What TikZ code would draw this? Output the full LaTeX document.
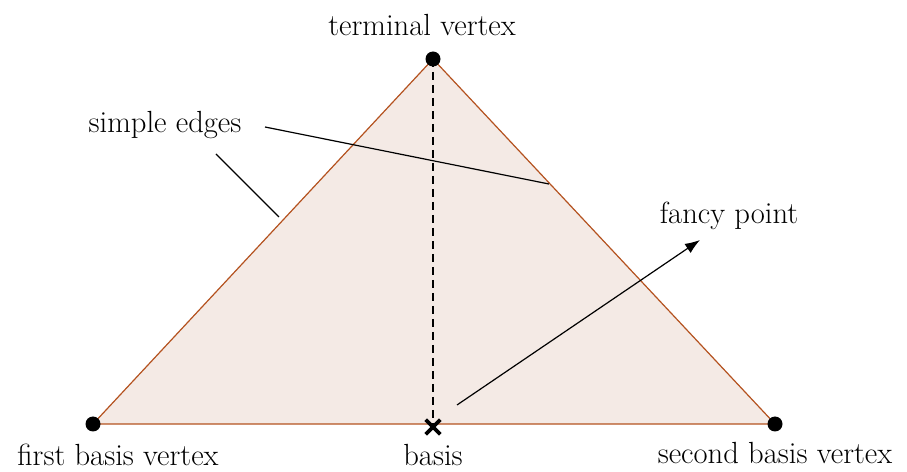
\documentclass[tikz,border=0pt]{standalone}
\usetikzlibrary{arrows.meta,positioning,shapes.misc}
\definecolor{Rust}{HTML}{B4521F}
\definecolor{Blush}{HTML}{F4EAE5}

\begin{document}
\begin{tikzpicture}[x=0.5pt,y=0.5pt,
 dot/.style={circle,fill=black,inner sep=0pt,minimum size=7.5pt},
 lbl/.style={font=\fontsize{15.3}{18}\selectfont,inner sep=0pt},
 pointer/.style={draw=black,line width=0.6pt},
 arrow/.style={pointer,-{Latex[length=7.5pt,width=5.5pt]}}]
\useasboundingbox (0,0) rectangle (907,472);
% triangle corners
\coordinate (first) at (93,48);
\coordinate (terminal) at (433,413);
\coordinate (second) at (775,48);
\coordinate (basis) at (433,45);
\filldraw[fill=Blush,draw=Rust,line width=0.6pt] (first)--(terminal)--(second)--cycle;
\draw[line width=1pt,dash pattern=on 4pt off 2.5pt] (terminal)--(basis);
\node[dot] (firstdot) at (first) {};
\node[dot] (terminaldot) at (terminal) {};
\node[dot] (seconddot) at (second) {};
\node[cross out,draw=black,line width=1.8pt,minimum size=5.5pt,inner sep=0pt] (basismark) at (basis) {};
% labels
\node[lbl] (terminallbl) at (422,447) {terminal vertex};
\node[lbl] (edgeslbl) at (165,347) {simple edges};
\node[lbl] (fancylbl) at (729,256) {fancy point};
\node[lbl] (firstlbl) at (118,17) {first basis vertex};
\node[lbl] (basislbl) at (433,17) {basis};
\node[lbl] (secondlbl) at (775,19) {second basis vertex};
% pointers
\coordinate (edgeA) at (265,345);
\coordinate (edgeAend) at (549,288);
\coordinate (edgeB) at (216,318);
\coordinate (edgeBend) at (279,255);
\coordinate (fancy) at (457,67);
\coordinate (fancyend) at (700,232);
\draw[pointer] (edgeA)--(edgeAend);
\draw[pointer] (edgeB)--(edgeBend);
\draw[arrow] (fancy)--(fancyend);
\end{tikzpicture}
\end{document}
